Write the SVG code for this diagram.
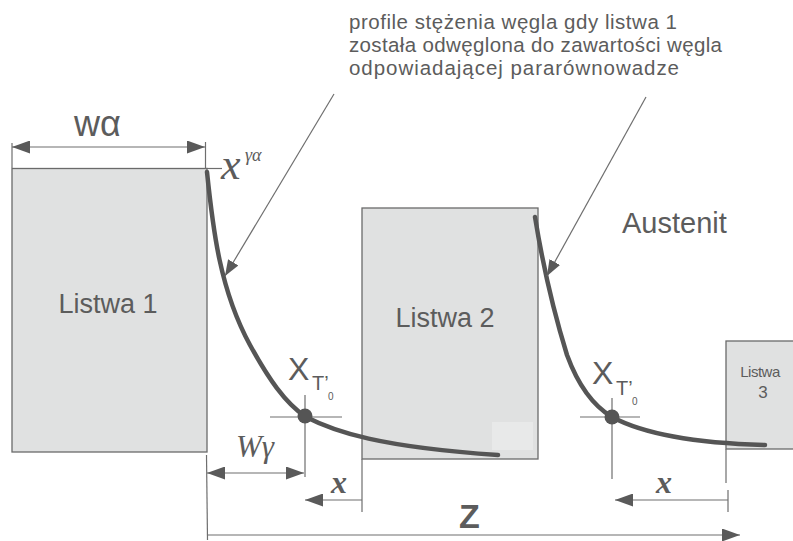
<svg xmlns="http://www.w3.org/2000/svg" width="793" height="541" viewBox="0 0 793 541">
<style>
.bar{fill:#e0e1e1;stroke:#6a6a6a;stroke-width:1.3}
.lbl{font-family:"Liberation Sans",Arial,sans-serif;fill:#5c5c5c}
.ser{font-family:"Liberation Serif","Times New Roman",serif;fill:#5c5c5c;font-style:italic}
.dim{stroke:#6e6e6e;stroke-width:1.2;fill:none}
.prof{stroke:#555;stroke-width:4.5;fill:none;stroke-linecap:round;stroke-linejoin:round}
</style>
<defs>
<marker id="arr" viewBox="0 0 18 13" refX="18" refY="6.5" markerWidth="18" markerHeight="13" markerUnits="userSpaceOnUse" orient="auto-start-reverse"><path d="M0,0 L18,6.5 L0,13 z" fill="#5a5a5a"/></marker>
<marker id="arrs" viewBox="0 0 16 12" refX="16" refY="6" markerWidth="16" markerHeight="12" markerUnits="userSpaceOnUse" orient="auto"><path d="M0,0 L16,6 L0,12 z" fill="#5a5a5a"/></marker>
</defs>
<rect width="793" height="541" fill="#fff"/>

<g id="listwa1">
<rect class="bar" x="12" y="168.5" width="195" height="283.5"/>
<text class="lbl" x="108" y="313" font-size="27" text-anchor="middle">Listwa 1</text>
</g>
<g id="listwa2">
<rect class="bar" x="362" y="208" width="176" height="251"/>
<rect x="492" y="422" width="41" height="28" fill="#e8e9e9"/>
<text class="lbl" x="445" y="327" font-size="27" text-anchor="middle">Listwa 2</text>
</g>
<g id="listwa3">
<rect class="bar" x="726" y="341" width="80" height="108"/>
<text class="lbl" x="760" y="377" font-size="15" text-anchor="middle" letter-spacing="-0.5">Listwa</text>
<text class="lbl" x="763" y="398" font-size="17" text-anchor="middle">3</text>
</g>
<g id="austenit">
<text class="lbl" x="622" y="233" font-size="29">Austenit</text>
</g>
<g id="caption">
<text class="lbl" font-size="20.5"><tspan x="349" y="29" textLength="328" lengthAdjust="spacing">profile stężenia węgla gdy  listwa 1</tspan><tspan x="349" y="52" textLength="373" lengthAdjust="spacing">została odwęglona do zawartości węgla</tspan><tspan x="349" y="75" textLength="330" lengthAdjust="spacing">odpowiadającej pararównowadze</tspan></text>
</g>

<g id="connectors">
<path class="prof" d="M207,172 C213,230 220,290 250,345 C268,378 285,403 306,417 C335,432 380,447 498,455"/>
<path class="prof" d="M535,217 C542,260 550,300 567,355 C578,385 592,405 612,417 C640,432 690,443 765,445"/>
<line class="dim" x1="334" y1="94" x2="225" y2="276" marker-end="url(#arrs)"/>
<line class="dim" x1="646" y1="97" x2="547" y2="276" marker-end="url(#arrs)"/>
<line class="dim" x1="12" y1="143" x2="12" y2="168"/>
<line class="dim" x1="205.5" y1="142" x2="205.5" y2="168"/>
<line class="dim" x1="205" y1="168.5" x2="222" y2="168.5"/>
<line class="dim" x1="12" y1="147" x2="205" y2="147" marker-start="url(#arr)" marker-end="url(#arr)"/>
<line class="dim" x1="270" y1="417" x2="342" y2="417"/>
<line class="dim" x1="305" y1="395" x2="305" y2="477"/>
<line class="dim" x1="580" y1="417" x2="640" y2="417"/>
<line class="dim" x1="612" y1="398" x2="612" y2="479"/>
<circle cx="305" cy="416" r="7.5" fill="#555"/>
<circle cx="612" cy="417" r="7.5" fill="#555"/>
<line class="dim" x1="206.5" y1="455" x2="207.5" y2="540"/>
<line class="dim" x1="362" y1="459" x2="362" y2="512"/>
<line class="dim" x1="726" y1="449" x2="726" y2="483"/>
<line class="dim" x1="728" y1="490" x2="728" y2="512"/>
<line class="dim" x1="207" y1="473" x2="304" y2="473" marker-start="url(#arr)" marker-end="url(#arr)"/>
<line class="dim" x1="362" y1="500" x2="305" y2="500" marker-end="url(#arr)"/>
<line class="dim" x1="728" y1="500" x2="615" y2="500" marker-end="url(#arr)"/>
<line class="dim" x1="207" y1="535" x2="740" y2="535" marker-end="url(#arr)"/>
</g>

<g id="labels">
<text class="lbl" x="74" y="136" font-size="36">wα</text>
<text class="ser" x="221" y="179" font-size="44">x</text>
<text class="ser" x="245" y="161" font-size="18">γα</text>
<text class="lbl" x="288" y="380" font-size="32">X</text>
<text class="lbl" x="312" y="390" font-size="20">T’</text>
<text class="lbl" x="328" y="400" font-size="10">0</text>
<text class="lbl" x="592" y="384" font-size="32">X</text>
<text class="lbl" x="616" y="395" font-size="20">T’</text>
<text class="lbl" x="632" y="405" font-size="10">0</text>
<text class="ser" x="236" y="457" font-size="31">Wγ</text>
<text class="ser" x="331" y="493" font-size="32" font-weight="bold">x</text>
<text class="ser" x="656" y="493" font-size="32" font-weight="bold">x</text>
<text class="lbl" x="459" y="528" font-size="34" font-weight="bold">Z</text>
</g>
</svg>
